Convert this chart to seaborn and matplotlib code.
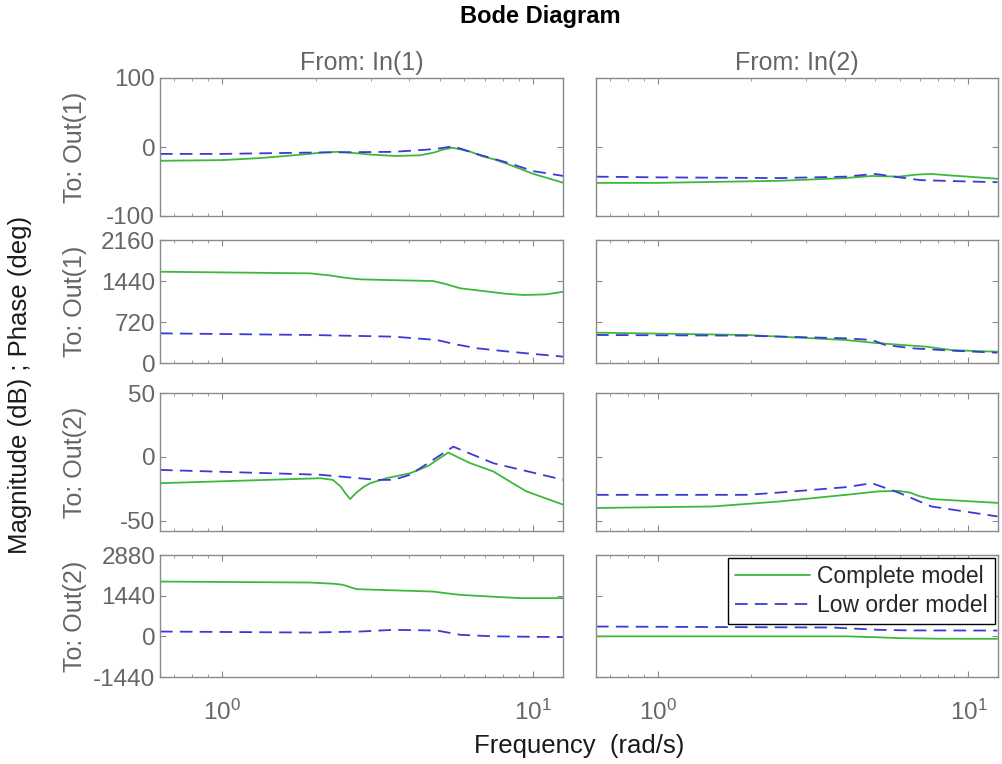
import numpy as np
import pandas as pd
import matplotlib
matplotlib.use("Agg")
import matplotlib.pyplot as plt
import seaborn as sns

# ---- data (frequency in rad/s) ----
# row 1: To Out(1), magnitude (dB)
f11_mag_full = [0.632, 1.0, 1.33, 1.6, 1.8, 2.1, 2.34, 2.7, 3.0, 3.6, 4.33, 4.8, 5.1, 5.5, 6.3, 6.8, 7.5, 8.3, 10.0, 12.5]
v11_mag_full = [-20, -19, -16, -13, -11, -8, -7, -9, -11, -13, -12, -8, -4, -1, -7, -13, -18, -25, -39, -52]
f11_mag_low = [0.632, 1.0, 2.0, 3.55, 4.5, 5.0, 5.53, 6.8, 8.3, 10.0, 12.5]
v11_mag_low = [-10, -10, -8, -7, -4, -2, 1, -12, -23, -35, -42]

f12_mag_full = [0.632, 1.0, 2.46, 4.0, 4.89, 5.96, 6.8, 7.6, 8.6, 10.0, 12.4]
v12_mag_full = [-52, -52, -49, -45, -42, -43, -40, -39, -41, -43, -46]
f12_mag_low = [0.632, 1.0, 2.46, 4.0, 5.0, 6.0, 7.0, 10.0, 12.4]
v12_mag_low = [-43, -44, -45, -43, -39, -44, -48, -50, -51]

# row 2: To Out(1), phase (deg)
f11_ph_full = [0.632, 1.92, 2.2, 2.5, 2.78, 3.5, 4.76, 5.2, 5.83, 7.0, 8.2, 9.3, 11.0, 12.5]
v11_ph_full = [1603, 1574, 1540, 1495, 1469, 1455, 1440, 1390, 1311, 1260, 1215, 1194, 1205, 1252]
f11_ph_low = [0.632, 1.92, 3.55, 4.9, 5.6, 6.6, 8.0, 9.5, 12.5]
v11_ph_low = [521, 492, 463, 404, 330, 258, 210, 170, 111]

f12_ph_full = [0.632, 1.93, 4.03, 4.9, 6.0, 7.3, 8.8, 10.5, 12.4]
v12_ph_full = [533, 492, 404, 357, 320, 287, 228, 210, 199]
f12_ph_low = [0.632, 1.93, 4.03, 4.9, 5.4, 6.6, 8.8, 12.4]
v12_ph_low = [492, 480, 433, 404, 316, 258, 217, 181]

# row 3: To Out(2), magnitude (dB)
f21_mag_full = [0.632, 2.07, 2.27, 2.4, 2.5, 2.58, 2.7, 2.85, 2.99, 3.4, 4.02, 4.6, 5.0, 5.33, 5.8, 6.27, 7.45, 8.5, 9.5, 12.5]
v21_mag_full = [-20.6, -16.7, -18, -23, -29, -33, -28, -23.5, -20.6, -16.5, -12.8, -7, -1, 3.4, -1, -4.9, -11.5, -20, -27, -37.5]
f21_mag_low = [0.632, 2.07, 3.15, 3.55, 4.02, 5.53, 7.45, 12.5]
v21_mag_low = [-10.2, -14, -18, -18, -14, 8, -5, -18]

f22_mag_full = [0.632, 1.5, 2.46, 4.03, 5.14, 5.96, 6.5, 6.9, 7.6, 12.4]
v22_mag_full = [-40, -38.8, -34.9, -29.7, -27, -26.6, -28, -30.5, -33, -36]
f22_mag_low = [0.632, 1.93, 2.46, 4.03, 4.89, 5.96, 7.6, 12.4]
v22_mag_low = [-29.7, -29.7, -27.9, -23.7, -20.6, -28, -38.8, -46.6]

# row 4: To Out(2), phase (deg)
f21_ph_full = [0.632, 1.92, 2.3, 2.45, 2.6, 2.71, 4.76, 5.3, 5.83, 7.5, 9.1, 12.5]
v21_ph_full = [1940, 1905, 1860, 1823, 1730, 1670, 1586, 1520, 1469, 1400, 1352, 1352]
f21_ph_low = [0.632, 1.92, 2.78, 3.55, 4.9, 5.4, 5.83, 7.45, 12.5]
v21_ph_low = [170, 134, 170, 230, 205, 120, 53, 0, -28]

f22_ph_full = [0.632, 4.03, 5.0, 5.96, 8.0, 12.4]
v22_ph_full = [0, 0, -30, -64, -84, -88]
f22_ph_low = [0.632, 3.64, 5.14, 6.5, 12.4]
v22_ph_low = [347, 312, 230, 210, 205]

panels = [
    [(f11_mag_full, v11_mag_full, f11_mag_low, v11_mag_low),
     (f12_mag_full, v12_mag_full, f12_mag_low, v12_mag_low)],
    [(f11_ph_full, v11_ph_full, f11_ph_low, v11_ph_low),
     (f12_ph_full, v12_ph_full, f12_ph_low, v12_ph_low)],
    [(f21_mag_full, v21_mag_full, f21_mag_low, v21_mag_low),
     (f22_mag_full, v22_mag_full, f22_mag_low, v22_mag_low)],
    [(f21_ph_full, v21_ph_full, f21_ph_low, v21_ph_low),
     (f22_ph_full, v22_ph_full, f22_ph_low, v22_ph_low)],
]
row_ylims = [(-100, 100), (0, 2160), (-58, 50), (-1440, 2880)]
row_yticks = [[-100, 0, 100], [0, 720, 1440, 2160], [-50, 0, 50], [-1440, 0, 1440, 2880]]
row_labels = ["To: Out(1)", "To: Out(1)", "To: Out(2)", "To: Out(2)"]
col_titles = ["From: In(1)", "From: In(2)"]
series_names = ["Complete model", "Low order model"]

sns.set_style("ticks")
plt.rcParams['font.family'] = ['Liberation Sans', 'DejaVu Sans']
plt.rcParams['axes.unicode_minus'] = False

W, H = 1002, 764
fig = plt.figure(figsize=(W / 100, H / 100), dpi=100)

col_px = [(160, 563), (596, 998)]
row_px = [(78, 216), (240, 363), (393, 531), (555, 677)]
green = "#3db83d"
blue = "#3a3ad8"
gray = "#666666"
frame = "#8a8a8a"

for r in range(4):
    for c in range(2):
        x0, x1 = col_px[c]
        y0, y1 = row_px[r]
        ax = fig.add_axes([x0 / W, 1 - y1 / H, (x1 - x0) / W, (y1 - y0) / H])
        ff, vf, fl, vl = panels[r][c]
        df_full = pd.DataFrame({"freq": ff, "val": vf})
        df_low = pd.DataFrame({"freq": fl, "val": vl})
        sns.lineplot(data=df_full, x="freq", y="val", ax=ax, color=green, lw=1.3,
                     estimator=None, sort=False, label=series_names[0])
        sns.lineplot(data=df_low, x="freq", y="val", ax=ax, color=blue, lw=1.3,
                     estimator=None, sort=False, label=series_names[1],
                     dashes=False, linestyle=(0, (7, 4)))
        ax.set_xscale("log")
        ax.set_xlim(0.632, 12.45)
        ax.set_ylim(*row_ylims[r])
        ax.set_yticks(row_yticks[r])
        ax.set_xlabel("")
        ax.set_ylabel("")
        ax.tick_params(which="both", direction="in", top=True, right=True,
                       colors=frame, labelcolor=gray, labelsize=17.5)
        ax.tick_params(which="major", length=4)
        ax.tick_params(which="minor", length=2)
        for s in ax.spines.values():
            s.set_color(frame)
            s.set_linewidth(1.0)
        if c == 1:
            ax.set_yticklabels([])
        if r < 3:
            ax.set_xticklabels([])
            ax.set_xticklabels([], minor=True)
        else:
            ax.tick_params(axis="x", which="major", pad=16)
        if r == 0:
            ax.set_title(col_titles[c], color=gray, fontsize=18, pad=6)
        if c == 0:
            ax.text(-0.212, 0.5, row_labels[r], transform=ax.transAxes, rotation=90,
                    ha="center", va="center", color=gray, fontsize=18)
        if r == 3 and c == 1:
            leg = ax.legend(loc="upper right", fontsize=16.5, frameon=True, fancybox=False,
                            handlelength=3.3, borderpad=0.3, labelspacing=0.25,
                            handletextpad=0.3, borderaxespad=0.15)
            leg.get_frame().set_edgecolor("black")
            leg.get_frame().set_linewidth(1.0)
            leg.get_frame().set_alpha(1)
        else:
            ax.get_legend().remove()

fig.text(540 / W, 1 - 17 / H, "Bode Diagram", ha="center", va="center",
         fontsize=17, fontweight="bold", color="black")
fig.text(579 / W, 1 - 746 / H, "Frequency  (rad/s)", ha="center", va="center",
         fontsize=18.5, color="#1a1a1a")
fig.text(20 / W, 1 - 385 / H, "Magnitude (dB) ; Phase (deg)", ha="center", va="center",
         rotation=90, fontsize=18.5, color="#1a1a1a")

fig.savefig("out.png", dpi=100)
